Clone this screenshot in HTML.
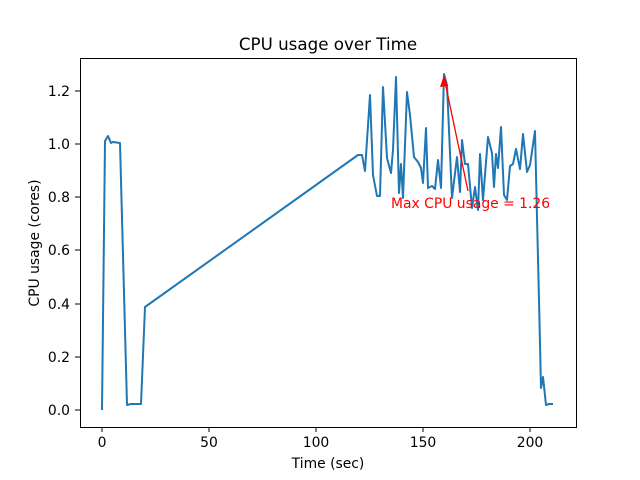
<!DOCTYPE html>
<html><head><style>body{margin:0;background:#fff}svg{display:block}</style></head><body>
<svg width="640" height="480" xmlns="http://www.w3.org/2000/svg" font-family="DejaVu Sans, sans-serif">
<rect width="640" height="480" fill="#fff"/>
<text x="328" y="50" font-size="16.7" text-anchor="middle">CPU usage over Time</text>
<polyline fill="none" stroke="#1f77b4" stroke-width="2" stroke-linejoin="round" points="102,410 105,141 108,136 111,143 113,142 120,143 127,405 131,404 141,404 145,307 358,155 362,155 365,171 370,95 373,175 377,196 380,196 383,87 387,158 391,173 393,150 396,77 399,193 401,164 403,198 407,92 410,115 414,157 418,162 421,168 423,183 426,128 428,188 432,186 435,189 438,160 441,188 444,74 447,85 452,198 457,157 460,192 462,140 465,164 468,164 472,208 475,187 478,210 480,154 483,200 488,137 492,153 494,187 496,154 498,168 501,127 504,195 507,200 510,166 513,164 516,149 520,169 523,134 527,172 530,165 535,131 537,217 539,300 541,388 543,377 546,405 549,404 553,404"/>
<line x1="468" y1="191" x2="445" y2="82" stroke="red" stroke-width="1.3"/>
<polygon points="444,75 440,87 448,86" fill="red"/>
<text x="391" y="208" font-size="13.9" fill="red">Max CPU usage = 1.26</text>
<rect x="80.5" y="58.5" width="496" height="369" fill="none" stroke="#000" stroke-width="1"/>
<g stroke="#000" stroke-width="1">
<line x1="102" y1="427" x2="102" y2="432"/><line x1="209" y1="427" x2="209" y2="432"/><line x1="316" y1="427" x2="316" y2="432"/><line x1="423" y1="427" x2="423" y2="432"/><line x1="530" y1="427" x2="530" y2="432"/>
<line x1="75" y1="410" x2="80" y2="410"/><line x1="75" y1="357" x2="80" y2="357"/><line x1="75" y1="304" x2="80" y2="304"/><line x1="75" y1="250" x2="80" y2="250"/><line x1="75" y1="197" x2="80" y2="197"/><line x1="75" y1="144" x2="80" y2="144"/><line x1="75" y1="91" x2="80" y2="91"/>
</g>
<g font-size="13.9" text-anchor="middle">
<text x="102" y="447">0</text><text x="209" y="447">50</text><text x="316" y="447">100</text><text x="423" y="447">150</text><text x="530" y="447">200</text>
</g>
<g font-size="13.9" text-anchor="end">
<text x="70" y="415">0.0</text><text x="70" y="362">0.2</text><text x="70" y="309">0.4</text><text x="70" y="255">0.6</text><text x="70" y="202">0.8</text><text x="70" y="149">1.0</text><text x="70" y="96">1.2</text>
</g>
<text x="328" y="468" font-size="13.9" text-anchor="middle">Time (sec)</text>
<text transform="translate(39,243) rotate(-90)" font-size="13.9" text-anchor="middle">CPU usage (cores)</text>
</svg>
</body></html>
